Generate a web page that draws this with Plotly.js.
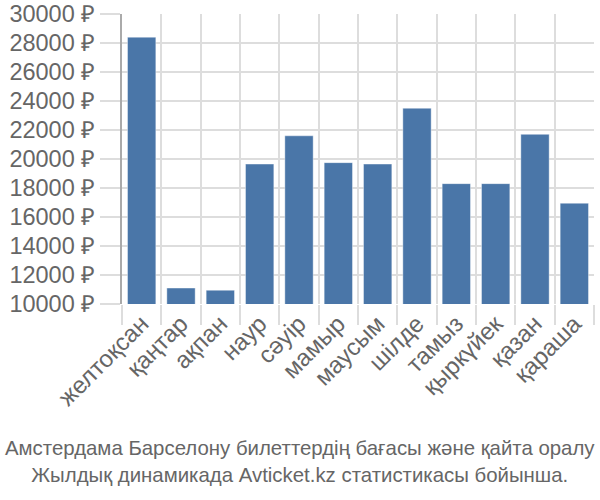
<!DOCTYPE html>
<html>
<head>
<meta charset="utf-8">
<script src="https://cdn.plot.ly/plotly-3.0.1.min.js"></script>
<style>
  html, body { margin: 0; padding: 0; background: #fff; }
  #chart { width: 600px; height: 500px; }
</style>
</head>
<body>
<div id="chart"></div>
<script>
// Month names (Kazakh) and average ticket prices in rubles
const months = ['желтоқсан', 'қаңтар', 'ақпан', 'наур', 'сәуір', 'мамыр',
                'маусым', 'шілде', 'тамыз', 'қыркүйек', 'қазан', 'қараша'];
const prices = [28400, 11100, 10950, 19650, 21600, 19750,
                19650, 23500, 18300, 18300, 21700, 16950];
const yTicks = [10000, 12000, 14000, 16000, 18000, 20000, 22000, 24000, 26000, 28000, 30000];

const trace = {
    x: months,
    y: prices,
    type: 'bar',
    marker: {
        color: '#4a76a8',
        line: { color: 'rgba(255,255,255,0.4)', width: 1 }
    },
    hoverinfo: 'none'
};

const layout = {
    width: 600,
    height: 500,
    margin: { l: 122, r: 6, t: 14, b: 196 },
    paper_bgcolor: '#fff',
    plot_bgcolor: '#fff',
    bargap: 0.28,
    showlegend: false,
    font: { family: 'Liberation Sans, Arial, sans-serif', color: '#666', size: 23 },
    xaxis: {
        type: 'category',
        tickson: 'boundaries',
        ticks: 'outside',
        ticklen: 20,
        tickcolor: '#ddd',
        tickwidth: 2,
        tickangle: -45,
        showgrid: true,
        gridcolor: '#ddd',
        gridwidth: 2,
        tickfont: { size: 24, color: '#666' },
        showline: false,
        zeroline: false
    },
    yaxis: {
        range: [10000, 30000],
        tickvals: yTicks,
        ticktext: yTicks.map(v => v + ' ₽'),
        ticks: 'outside',
        ticklen: 20,
        tickcolor: '#ddd',
        tickwidth: 2,
        showgrid: true,
        gridcolor: '#ddd',
        gridwidth: 2,
        showline: true,
        linecolor: '#aaa',
        linewidth: 2,
        zeroline: false,
        tickfont: { size: 23.5, color: '#666' }
    },
    annotations: [{
        xref: 'paper', yref: 'paper',
        x: 0.377, y: 0,
        xanchor: 'center', yanchor: 'middle',
        yshift: -157,
        showarrow: false,
        align: 'center',
        text: 'Амстердама Барселону билеттердің бағасы және қайта оралу<br>Жылдық динамикада Avticket.kz статистикасы бойынша.',
        font: { family: 'Liberation Sans, sans-serif', size: 20.4, color: '#666' }
    }]
};

Plotly.newPlot('chart', [trace], layout, { staticPlot: true });
</script>
</body>
</html>
